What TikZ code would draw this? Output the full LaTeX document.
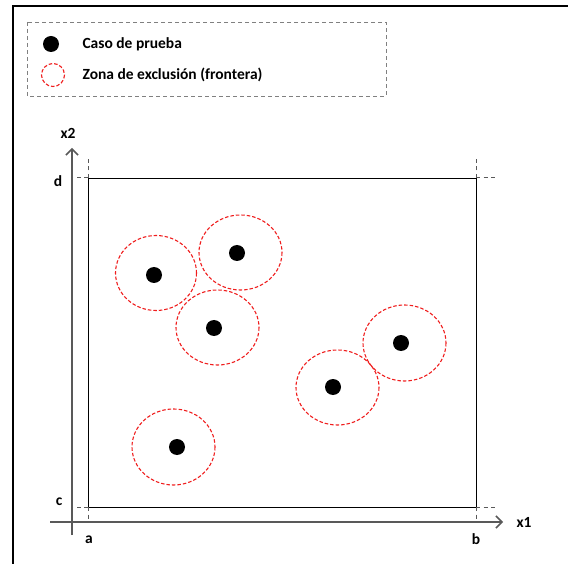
\documentclass[tikz,border=0pt]{standalone}
\usepackage{fontspec}
\setmainfont{Carlito}
\usetikzlibrary{arrows.meta}
\definecolor{achse}{RGB}{89,89,89}
\definecolor{zonarot}{RGB}{240,30,30}

\tikzset{
  punkt/.style={circle, fill=black, inner sep=0pt, minimum size=16pt},
  zona/.style={zonarot, dashed, dash pattern=on 3.5pt off 2pt, line width=1.1pt},
  hilfs/.style={achse, dashed, dash pattern=on 4pt off 3.5pt, line width=1pt},
  lab/.style={font=\bfseries\fontsize{15.5}{18}\selectfont}
}

\begin{document}
\begin{tikzpicture}[x=1pt, y=-1pt, >={Straight Barb[length=6pt,width=12pt]}]

	\useasboundingbox (0,0) rectangle (568,564);
	\fill[white] (0,0) rectangle (568,564);

	% Rahmen
	\draw[line width=2pt] (13,564) -- (13,6.5) -- (568,6.5);

	% Legende
	\draw[gray, dashed, dash pattern=on 4pt off 3pt, line width=0.9pt] (27,22) rectangle (386,96);
	\node[punkt] (lp) at (51,44) {};
	\draw[zona] (53,75) circle (11.5);
	\node[lab, anchor=west] (lt1) at (79,44) {Caso de prueba};
	\node[lab, anchor=west] (lt2) at (79,75) {Zona de exclusión (frontera)};

	% Achsen
	\draw[->, achse, line width=1.5pt] (72,535) -- (72,148);
	\draw[->, achse, line width=1.5pt] (50,522) -- (503,522);
	\node[lab] (x2) at (68,133) {x2};
	\node[lab] (x1) at (524,522) {x1};

	% Bereich
	\draw[line width=0.8pt] (88,178) rectangle (476,507);
	\draw[hilfs] (88,178) -- (88,156);
	\draw[hilfs] (476,178) -- (476,156);
	\draw[hilfs] (88,507) -- (88,519);
	\draw[hilfs] (476,507) -- (476,519);
	\draw[hilfs] (88,178) -- (72,178);
	\draw[hilfs] (88,507) -- (72,507);
	\draw[hilfs] (476,178) -- (498,178);
	\draw[hilfs] (476,507) -- (498,507);
	\node[lab] (d) at (58,181) {d};
	\node[lab] (c) at (59,502) {c};
	\node[lab] (a) at (89,540) {a};
	\node[lab] (b) at (476,539) {b};

	% Testfaelle
	\node[punkt] (t1) at (154,275) {};
	\node[punkt] (t2) at (237,253) {};
	\node[punkt] (t3) at (214,328) {};
	\node[punkt] (t4) at (333,387) {};
	\node[punkt] (t5) at (401,343) {};
	\node[punkt] (t6) at (177,447) {};

	% Ausschlusszonen
	\draw[zona] (156,273) ellipse (40.5 and 37.5);
	\draw[zona] (240.5,252.5) ellipse (41.5 and 37.5);
	\draw[zona] (217.5,327.5) ellipse (41.5 and 37.5);
	\draw[zona] (337.5,387.5) ellipse (41.5 and 37.5);
	\draw[zona] (404.5,343) ellipse (41.5 and 38);
	\draw[zona] (173.5,447) ellipse (41.5 and 38);

\end{tikzpicture}
\end{document}
